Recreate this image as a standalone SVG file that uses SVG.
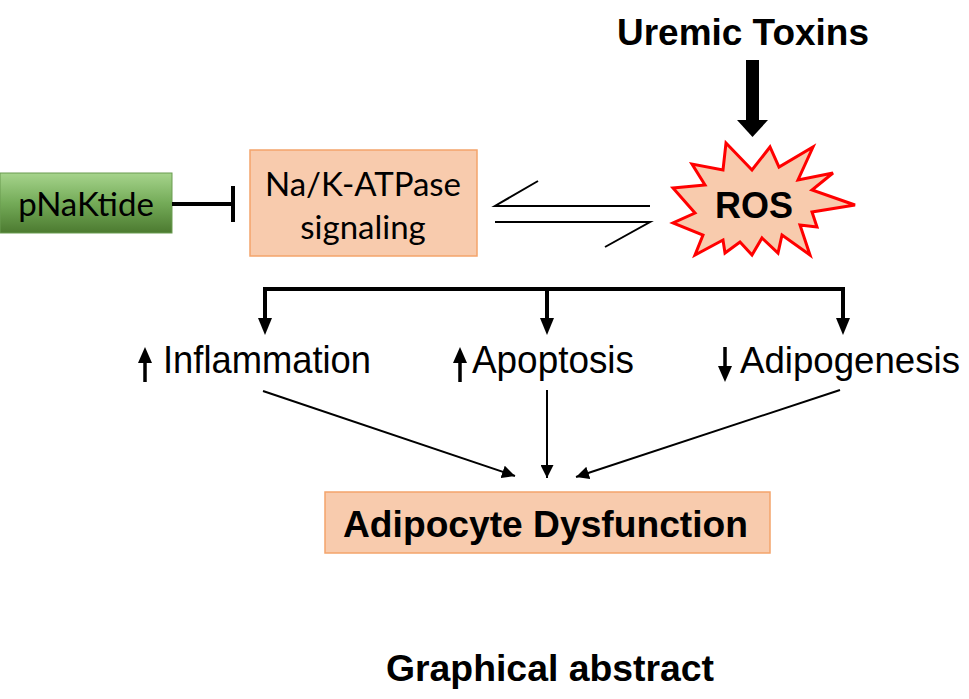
<svg xmlns="http://www.w3.org/2000/svg" width="969" height="699" viewBox="0 0 969 699">
<style>
.sans{font-family:"Liberation Sans",Arial,sans-serif;fill:#000}
.cal{font-family:Lato,"Open Sans",sans-serif;fill:#000}
.b{font-weight:bold}
.box{fill:#f8cbad;stroke:#f4a46b;stroke-width:1.5}
.thick{stroke:#000;stroke-width:4;fill:none}
.thin{stroke:#000;stroke-width:2;fill:none}
</style>
<defs>
<linearGradient id="g" x1="0" y1="0" x2="0" y2="1">
<stop offset="0" stop-color="#a6d48c"/>
<stop offset="0.5" stop-color="#74ab58"/>
<stop offset="1" stop-color="#4c7a30"/>
</linearGradient>
<marker id="ahs" viewBox="0 0 10 10" refX="10" refY="5" markerWidth="6.5" markerHeight="6.5" orient="auto" markerUnits="strokeWidth">
<path d="M0,0 L10,5 L0,10 Z" fill="#000"/>
</marker>
</defs>

<g id="uremic">
<text class="sans b" x="617" y="45" font-size="36" textLength="252" lengthAdjust="spacingAndGlyphs">Uremic Toxins</text>
</g>

<g id="pnaktide">
<rect x="0" y="173" width="172" height="60" fill="url(#g)" stroke="#6a9c50" stroke-width="1"/>
<text class="cal" x="86" y="216" font-size="33" text-anchor="middle">pNaKtide</text>
</g>

<g id="nak">
<rect class="box" x="250" y="150" width="227" height="106"/>
<text class="cal" x="363" y="196" font-size="33" text-anchor="middle">Na/K-ATPase</text>
<text class="cal" x="363" y="239" font-size="33" text-anchor="middle">signaling</text>
</g>

<g id="ros">
<polygon points="726,143 752,170 770,147 779,167 813,147 798,180 833,173 812,190 855,205 812,212 817,227 800,225 810,255 782,235 778,253 762,238 752,255 740,242 725,253 723,240 695,255 703,235 673,223 695,213 673,188 705,185 692,164 723,170" fill="#f8cbad" stroke="#ff0000" stroke-width="3" stroke-linejoin="miter"/>
<text class="sans b" x="715" y="218" font-size="37" textLength="78" lengthAdjust="spacingAndGlyphs">ROS</text>
</g>

<g id="inflammation">
<text class="sans" x="163" y="373" font-size="39" textLength="208" lengthAdjust="spacingAndGlyphs">Inflammation</text>
</g>
<g id="apoptosis">
<text class="sans" x="472" y="373" font-size="39" textLength="162" lengthAdjust="spacingAndGlyphs">Apoptosis</text>
</g>
<g id="adipogenesis">
<text class="sans" x="740" y="373" font-size="37" textLength="220" lengthAdjust="spacingAndGlyphs">Adipogenesis</text>
</g>

<g id="adipocyte">
<rect class="box" x="325" y="492" width="445" height="61"/>
<text class="sans b" x="343" y="537" font-size="37" textLength="405" lengthAdjust="spacingAndGlyphs">Adipocyte Dysfunction</text>
</g>

<g id="caption">
<text class="sans b" x="386" y="681" font-size="37" textLength="328" lengthAdjust="spacingAndGlyphs">Graphical abstract</text>
</g>

<g id="connectors">
<!-- uremic -> ROS -->
<rect x="746" y="60" width="13" height="62" fill="#000"/>
<polygon points="737,120 768,120 752.5,137" fill="#000"/>
<!-- pNaKtide inhibits -->
<line x1="172" y1="204" x2="233" y2="204" stroke="#000" stroke-width="4"/>
<line x1="233" y1="186" x2="233" y2="222" stroke="#000" stroke-width="4"/>
<!-- equilibrium -->
<polyline points="538,181 495,206 650,206" class="thin" stroke-width="3"/>
<polyline points="495,222 650,222 605,247" class="thin" stroke-width="3"/>
<!-- bracket -->
<polyline points="265,320 265,289 843,289 843,320" class="thick" stroke-linejoin="miter"/>
<line x1="547" y1="289" x2="547" y2="320" class="thick"/>
<polygon points="258,318 272,318 265,335" fill="#000"/>
<polygon points="540,318 554,318 547,335" fill="#000"/>
<polygon points="836,318 850,318 843,335" fill="#000"/>
<!-- small up/down arrows -->
<line x1="145" y1="382" x2="145" y2="360" stroke="#000" stroke-width="3.5"/>
<polygon points="138,363 152,363 145,347" fill="#000"/>
<line x1="460" y1="382" x2="460" y2="360" stroke="#000" stroke-width="3.5"/>
<polygon points="453,363 467,363 460,347" fill="#000"/>
<line x1="725" y1="347" x2="725" y2="369" stroke="#000" stroke-width="3.5"/>
<polygon points="718,366 732,366 725,382" fill="#000"/>
<!-- to adipocyte -->
<line x1="263" y1="391" x2="515" y2="476" class="thin" marker-end="url(#ahs)"/>
<line x1="547" y1="390" x2="547" y2="478" class="thin" marker-end="url(#ahs)"/>
<line x1="840" y1="390" x2="576" y2="477" class="thin" marker-end="url(#ahs)"/>
</g>
</svg>
